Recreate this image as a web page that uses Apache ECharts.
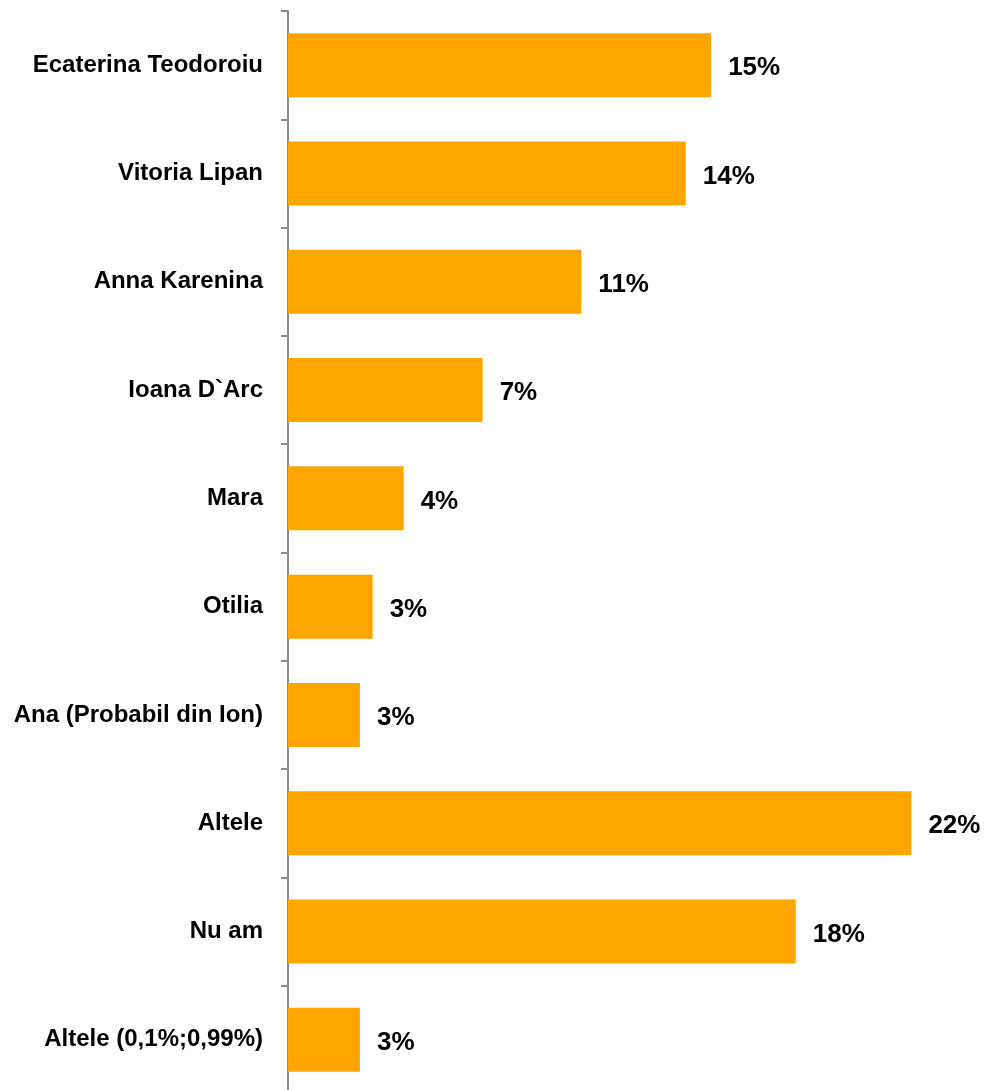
<!DOCTYPE html>
<html>
<head>
<meta charset="utf-8">
<script src="https://cdn.jsdelivr.net/npm/echarts@6/dist/echarts.min.js"></script>
<style>
  html, body { margin: 0; padding: 0; background: #fff; }
  #chart { width: 987px; height: 1090px; }
</style>
</head>
<body>
<div id="chart"></div>
<script>
// categories top to bottom
const categories = [
  'Ecaterina Teodoroiu',
  'Vitoria Lipan',
  'Anna Karenina',
  'Ioana D`Arc',
  'Mara',
  'Otilia',
  'Ana (Probabil din Ion)',
  'Altele',
  'Nu am',
  'Altele (0,1%;0,99%)'
]
// bar lengths (percent)
const values = [15.0, 14.1, 10.4, 6.9, 4.1, 3.0, 2.55, 22.1, 18.0, 2.55]
// printed labels
const valueLabels = ['15%', '14%', '11%', '7%', '4%', '3%', '3%', '22%', '18%', '3%']

const chart = echarts.init(document.getElementById('chart'))

const options = {
  animation: false,
  textStyle: { fontFamily: 'Liberation Sans, Arial, sans-serif' },
  grid: {
    left: 288,
    top: 11,
    width: 677,
    height: 1083,
    containLabel: false,
    outerBoundsMode: 'none'
  },
  xAxis: {
    type: 'value',
    min: 0,
    max: 24,
    show: false
  },
  yAxis: {
    type: 'category',
    inverse: true,
    data: categories,
    axisLine: {
      show: true,
      lineStyle: { color: '#8c8c8c', width: 2 }
    },
    axisTick: {
      show: true,
      inside: false,
      length: 7,
      lineStyle: { color: '#8c8c8c', width: 2 }
    },
    axisLabel: {
      margin: 25,
      padding: [5, 0, 0, 0],
      color: '#000',
      fontSize: 24,
      fontWeight: 'bold',
      fontFamily: 'Liberation Sans, Arial, sans-serif'
    },
    splitLine: { show: false }
  },
  series: [
    {
      type: 'bar',
      data: values,
      barWidth: 64,
      itemStyle: { color: '#FFA500' },
      label: {
        show: true,
        position: 'right',
        distance: 17,
        offset: [0, 3],
        color: '#000',
        fontSize: 26,
        fontWeight: 'bold',
        fontFamily: 'Liberation Sans, Arial, sans-serif',
        formatter: function (p) {
          return valueLabels[p.dataIndex]
        }
      }
    }
  ]
}

chart.setOption(options)
</script>
</body>
</html>
